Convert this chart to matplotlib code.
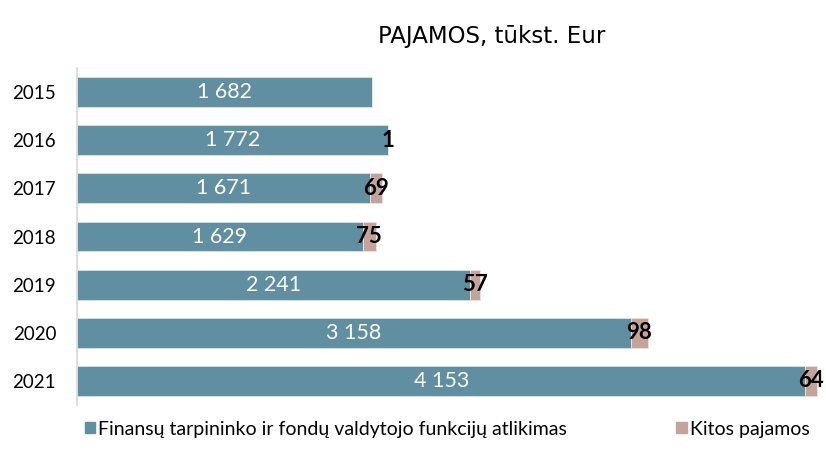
import matplotlib.pyplot as plt
from matplotlib.patches import Patch

years = ['2015', '2016', '2017', '2018', '2019', '2020', '2021']
finansu = [1682, 1772, 1671, 1629, 2241, 3158, 4153]
kitos = [0, 1, 69, 75, 57, 98, 64]
series_names = ['Finansų tarpininko ir fondų valdytojo funkcijų atlikimas', 'Kitos pajamos']

blue = '#5F8FA0'
pink = '#C4A39A'

fig = plt.figure(figsize=(8.26, 4.68), dpi=100)
ax = fig.add_axes([77 / 826, 1 - 405 / 468, (826 - 77) / 826, (405 - 68) / 468])

ypos = range(len(years))
ax.barh(ypos, finansu, height=0.62, color=blue, edgecolor='#D8E4E8', linewidth=0.6)
ax.barh(ypos, kitos, left=finansu, height=0.62, color=pink, edgecolor='#EDE2DE', linewidth=0.6)

for i, (a, b) in enumerate(zip(finansu, kitos)):
    ax.text(a / 2, i, f'{a:,}'.replace(',', ' '), ha='center', va='center',
            color='white', fontsize=15.5, family='Lato')
    if b > 0:
        ax.text(a + b / 2, i, str(b), ha='center', va='center',
                color='black', fontsize=16, fontweight='bold', family='Lato')

ax.set_xlim(0, 4270)
ax.set_ylim(len(years) - 0.5, -0.5)
ax.set_yticks(list(ypos))
ax.set_yticklabels(years, fontsize=13.5, family='Lato')
ax.tick_params(axis='y', length=0, pad=15)
ax.set_xticks([])
for s in ['top', 'right', 'bottom']:
    ax.spines[s].set_visible(False)
ax.spines['left'].set_color('#D9D9D9')
ax.spines['left'].set_linewidth(1.2)

fig.text(492 / 826, 1 - 36 / 468, 'PAJAMOS, tūkst. Eur', ha='center', va='center',
         fontsize=16.5, family='DejaVu Sans')

handles = [Patch(color=blue), Patch(color=pink)]
fig.legend(handles, series_names, loc='center', bbox_to_anchor=(447 / 826, 1 - 429 / 468),
           ncol=2, frameon=False, prop={'family': 'Lato', 'size': 14},
           handlelength=0.55, handleheight=0.55, handletextpad=0.15, columnspacing=5.6)

fig.savefig('out.png', dpi=100)
